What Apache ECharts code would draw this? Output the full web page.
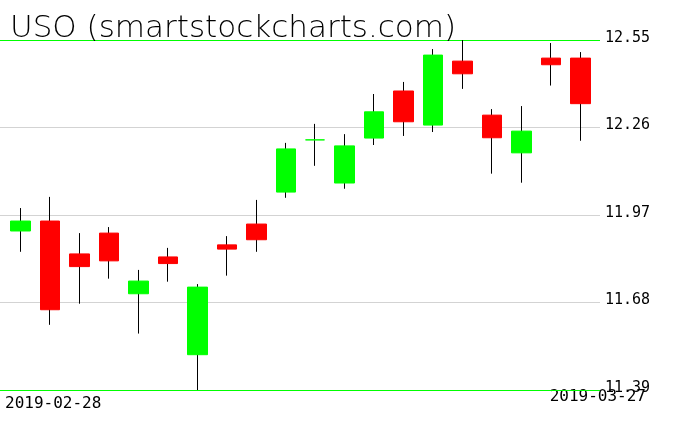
<!DOCTYPE html>
<html>
<head>
<meta charset="utf-8">
<script src="https://cdn.jsdelivr.net/npm/echarts@6/dist/echarts.min.js"></script>
<style>
html, body { margin: 0; padding: 0; background: #fff; }
#chart { width: 676px; height: 431px; }
</style>
</head>
<body>
<div id="chart"></div>
<script>
// trading days shown, first and last are printed under the chart
var dates = ['2019-02-28', '2019-03-01', '2019-03-04', '2019-03-05', '2019-03-06', '2019-03-07', '2019-03-08',
    '2019-03-11', '2019-03-12', '2019-03-13', '2019-03-14', '2019-03-15', '2019-03-18', '2019-03-19',
    '2019-03-20', '2019-03-21', '2019-03-22', '2019-03-25', '2019-03-26', '2019-03-27'];
var opens  = [11.917, 11.950, 11.841, 11.910, 11.709, 11.831, 11.507, 11.871, 11.940, 12.046,
    12.219, 12.076, 12.225, 12.381, 12.268, 12.480, 12.301, 12.176, 12.490, 12.490];
var closes = [11.950, 11.656, 11.799, 11.818, 11.751, 11.809, 11.731, 11.857, 11.888, 12.189,
    12.219, 12.199, 12.312, 12.279, 12.500, 12.438, 12.226, 12.248, 12.468, 12.339];
var lows   = [11.848, 11.606, 11.676, 11.759, 11.577, 11.749, 11.390, 11.769, 11.848, 12.027,
    12.133, 12.057, 12.202, 12.232, 12.245, 12.388, 12.107, 12.077, 12.399, 12.216];
var highs  = [11.993, 12.030, 11.910, 11.930, 11.788, 11.861, 11.741, 11.900, 12.020, 12.209,
    12.272, 12.238, 12.371, 12.411, 12.520, 12.550, 12.321, 12.331, 12.540, 12.510];
var yTicks = ['11.39', '11.68', '11.97', '12.26', '12.55'];

var yMin = 11.39, yMax = 12.55;
var green = '#00ff00', red = '#ff0000';

// wick: black line low -> high (zero height body at the low)
var wickData = [];
// body: open/close only, drawn over the wick
var bodyData = [];
for (var i = 0; i < dates.length; i++) {
    wickData.push([lows[i], lows[i], lows[i], highs[i]]);
    bodyData.push([opens[i], closes[i], Math.min(opens[i], closes[i]), Math.max(opens[i], closes[i])]);
}

var chart = echarts.init(document.getElementById('chart'));
chart.setOption({
    animation: false,
    backgroundColor: '#fff',
    title: {
        text: 'USO (smartstockcharts.com)',
        left: 5,
        top: 8,
        textStyle: {
            fontFamily: 'DejaVu Sans',
            fontWeight: 200,
            fontSize: 31,
            color: '#000'
        }
    },
    grid: [
        // candles
        { left: 5.8, right: 80.8, top: 40, bottom: 41 },
        // grid lines and price labels
        { left: 0, right: 76, top: 40, bottom: 41 }
    ],
    xAxis: [
        {
            type: 'category',
            gridIndex: 0,
            data: dates,
            boundaryGap: true,
            axisLine: { show: false },
            axisTick: { show: false },
            axisLabel: { show: false },
            splitLine: { show: false }
        },
        {
            type: 'value',
            gridIndex: 1,
            show: false
        }
    ],
    yAxis: [
        {
            type: 'value',
            gridIndex: 0,
            min: yMin,
            max: yMax,
            show: false
        },
        {
            type: 'value',
            gridIndex: 1,
            position: 'right',
            min: 0,
            max: 4,
            interval: 1,
            axisLine: { show: false },
            axisTick: { show: false },
            splitLine: {
                show: true,
                lineStyle: { color: [green, '#d3d3d3', '#d3d3d3', '#d3d3d3', green], width: 1 }
            },
            axisLabel: {
                margin: 5,
                fontFamily: 'DejaVu Sans Mono',
                fontSize: 15,
                verticalAlign: 'bottom',
                lineHeight: 4,
                color: function (v, idx) {
                    return (v === 0 || v === 4) ? green : '#000';
                },
                formatter: function (v) {
                    return yTicks[v];
                }
            }
        }
    ],
    graphic: [
        {
            type: 'text',
            left: 5,
            top: 396,
            style: {
                text: dates[0],
                fontFamily: 'DejaVu Sans Mono',
                fontSize: 16,
                fill: '#000'
            }
        },
        {
            type: 'text',
            right: 30,
            top: 389,
            style: {
                text: dates[dates.length - 1],
                fontFamily: 'DejaVu Sans Mono',
                fontSize: 16,
                fill: '#000'
            }
        }
    ],
    series: [
        {
            name: 'wick',
            type: 'candlestick',
            xAxisIndex: 0,
            yAxisIndex: 0,
            barWidth: 1,
            data: wickData,
            itemStyle: {
                color: '#000',
                color0: '#000',
                borderColor: '#000',
                borderColor0: '#000',
                borderColorDoji: '#000',
                borderWidth: 1
            },
            emphasis: { disabled: true }
        },
        {
            name: 'body',
            type: 'candlestick',
            xAxisIndex: 0,
            yAxisIndex: 0,
            barWidth: 20,
            data: bodyData,
            itemStyle: {
                color: green,
                color0: red,
                borderColor: green,
                borderColor0: red,
                borderColorDoji: green,
                borderWidth: 1
            },
            emphasis: { disabled: true }
        }
    ]
});
</script>
</body>
</html>
